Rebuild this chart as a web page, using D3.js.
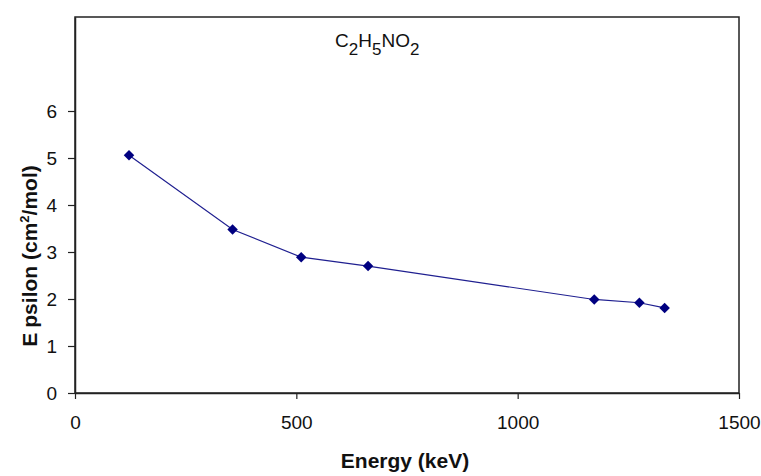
<!DOCTYPE html>
<html>
<head>
<meta charset="utf-8">
<script src="https://cdn.jsdelivr.net/npm/d3@7"></script>
<style>
  body { margin: 0; background: #fff; }
  text { font-family: "Liberation Sans", Arial, sans-serif; }
</style>
</head>
<body>
<div id="chart"></div>
<script>
const energy = [122, 356, 511, 662, 1173, 1275, 1332];
const epsilon = [5.06, 3.48, 2.89, 2.70, 1.99, 1.92, 1.81];
const xTicks = [0, 500, 1000, 1500];
const yTicks = [0, 1, 2, 3, 4, 5, 6];

const svg = d3.select("#chart").append("svg").attr("width", 761).attr("height", 476);

const margin = { top: 17, right: 22, bottom: 83, left: 75 };
const width = 761 - margin.left - margin.right;
const height = 476 - margin.top - margin.bottom;

const x = d3.scaleLinear().domain([0, 1500]).range([0, width]);
const y = d3.scaleLinear().domain([0, 8]).range([height, 0]);

const g = svg.append("g").attr("transform", `translate(${margin.left},${margin.top})`);

// box
g.append("rect")
  .attr("width", width)
  .attr("height", height)
  .attr("fill", "none")
  .attr("stroke", "#222")
  .attr("stroke-width", 1.5);

const xAxis = g.append("g")
  .attr("transform", `translate(0,${height})`)
  .call(d3.axisBottom(x).tickValues(xTicks).tickSize(6).tickSizeOuter(0).tickPadding(17).tickFormat(d3.format("d")));

const yAxis = g.append("g")
  .call(d3.axisLeft(y).tickValues(yTicks).tickSize(7).tickSizeOuter(0).tickPadding(11).tickFormat(d3.format("d")));

[xAxis, yAxis].forEach((a) => {
  a.select(".domain").attr("stroke", "#222").attr("stroke-width", 1.5);
  a.selectAll(".tick line").attr("stroke", "#222").attr("stroke-width", 1.2);
  a.selectAll("text").attr("font-size", 19).attr("fill", "#111")
    .style("font-family", "'Liberation Sans', Arial, sans-serif");
});

const pts = energy.map((e, i) => [e, epsilon[i]]);

g.append("path")
  .datum(pts)
  .attr("fill", "none")
  .attr("stroke", "#1f1f90")
  .attr("stroke-width", 1.2)
  .attr("d", d3.line().x((d) => x(d[0])).y((d) => y(d[1])));

g.selectAll(".pt")
  .data(pts)
  .enter()
  .append("path")
  .attr("class", "pt")
  .attr("transform", (d) => `translate(${x(d[0])},${y(d[1])})`)
  .attr("d", d3.symbol().type(d3.symbolDiamond2).size(70))
  .attr("fill", "#000080");

// formula label
const t = svg.append("text")
  .attr("x", 335)
  .attr("y", 47)
  .attr("font-size", 19)
  .attr("fill", "#111");
t.append("tspan").text("C");
t.append("tspan").attr("dy", 8).attr("font-size", 17).text("2");
t.append("tspan").attr("dy", -8).text("H");
t.append("tspan").attr("dy", 8).attr("font-size", 17).text("5");
t.append("tspan").attr("dy", -8).text("NO");
t.append("tspan").attr("dy", 8).attr("font-size", 17).text("2");

// axis titles
svg.append("text")
  .attr("x", 405)
  .attr("y", 468)
  .attr("text-anchor", "middle")
  .attr("font-size", 21)
  .attr("font-weight", "bold")
  .attr("fill", "#111")
  .text("Energy (keV)");

const yl = svg.append("text")
  .attr("transform", "translate(37,256) rotate(-90)")
  .attr("text-anchor", "middle")
  .attr("font-size", 21)
  .attr("font-weight", "bold")
  .attr("fill", "#111");
yl.append("tspan").text("E");
yl.append("tspan").attr("dx", 5).text("psilon (cm");
yl.append("tspan").attr("dy", -8).attr("font-size", 13).text("2");
yl.append("tspan").attr("dy", 8).text("/mol)");
</script>
</body>
</html>
